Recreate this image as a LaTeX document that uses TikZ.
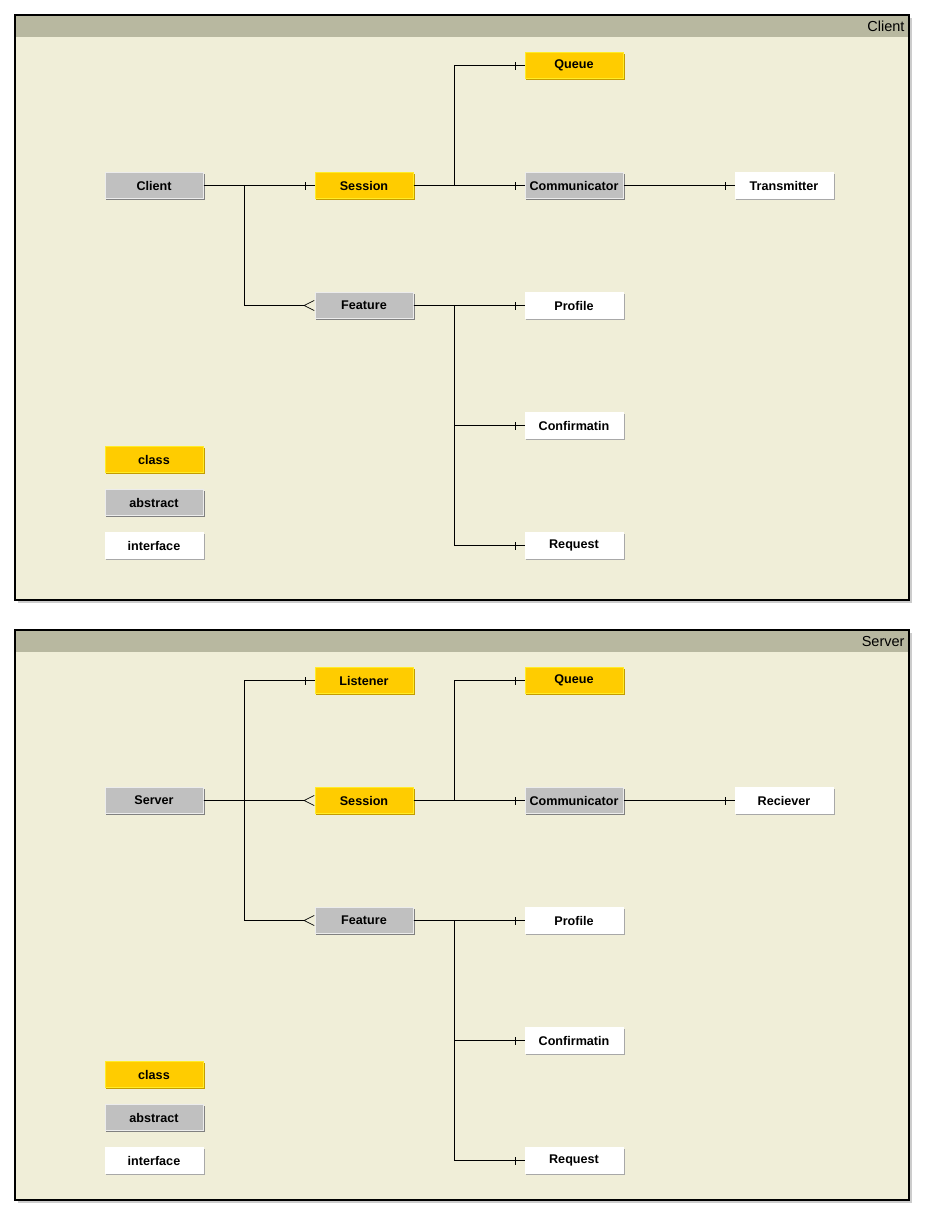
\documentclass[tikz,border=0pt]{standalone}
\usepackage{fontspec}
\setmainfont{Liberation Sans}
\usetikzlibrary{arrows.meta,decorations.markings}

\definecolor{panelbg}{RGB}{240,238,216}
\definecolor{panelhead}{RGB}{184,184,160}
\definecolor{panelshade}{RGB}{204,204,204}
\definecolor{clsfill}{RGB}{255,204,0}
\definecolor{clslight}{RGB}{255,236,40}
\definecolor{clsdark}{RGB}{196,156,0}
\definecolor{absfill}{RGB}{192,192,192}
\definecolor{abslight}{RGB}{236,236,236}
\definecolor{absdark}{RGB}{128,128,128}
\definecolor{ifcdark}{RGB}{168,168,168}

\begin{document}
\begin{tikzpicture}[x=1pt,y=-1pt,
    box/.style={minimum width=98.6pt,minimum height=25.8pt,inner sep=0pt,
      font=\fontsize{12.6}{14}\selectfont\bfseries,
      preaction={fill=#1,transform canvas={shift={(1.2,1.2)}}}},
    cls/.style={box=clsdark,fill=clsfill,draw=clslight},
    abs/.style={box=absdark,fill=absfill,draw=abslight},
    ifc/.style={box=ifcdark,fill=white,draw=white},
    link/.style={line width=0.8pt},
    onebar/.style={link,postaction={decorate,decoration={markings,
      mark=at position -9pt with {\draw[line width=0.8pt] (0,-4pt) -- (0,4pt);}}}},
    many/.style={link,-{Straight Barb[reversed,length=10pt,width=10pt,line width=0.7pt]}},
    head/.style={anchor=east,font=\fontsize{14.5}{16}\selectfont}]
  \useasboundingbox (0,0) rectangle (928,1219);

  % client panel
  \fill[panelshade] (18,18) rectangle (912,603);
  \fill[panelbg] (15,15) rectangle (909,600);
  \fill[panelhead] (15,15) rectangle (909,37);
  \draw[line width=1.2pt] (15,15) rectangle (909,600);
  \node[head] (clienthead) at (908,26) {Client};

  \node[abs] (client) at (154,185.5) {Client};
  \node[cls] (csess) at (364,185.5) {Session};
  \node[abs] (cfeat) at (364,305.5) {Feature};
  \node[cls] (cqueue) at (574,65.5) {Queue};
  \node[abs] (ccomm) at (574,185.5) {Communicator};
  \node[ifc] (ctrans) at (784,185.5) {Transmitter};
  \node[ifc] (cprof) at (574,305.5) {Profile};
  \node[ifc] (cconf) at (574,425.5) {Confirmatin};
  \node[ifc] (creq) at (574,545.5) {Request};

  \node[cls] (clegcls) at (154,459.5) {class};
  \node[abs] (clegabs) at (154,502.5) {abstract};
  \node[ifc] (clegifc) at (154,545.5) {interface};

  \draw[onebar] (client.east) -- (csess.west);
  \draw[many] (client.east) -- ++(40.5,0) |- (cfeat.west);
  \draw[onebar] (csess.east) -- ++(40.5,0) |- (cqueue.west);
  \draw[onebar] (csess.east) -- (ccomm.west);
  \draw[onebar] (ccomm.east) -- (ctrans.west);
  \draw[onebar] (cfeat.east) -- (cprof.west);
  \draw[onebar] (cfeat.east) -- ++(40.5,0) |- (cconf.west);
  \draw[onebar] (cfeat.east) -- ++(40.5,0) |- (creq.west);

  % server panel
  \fill[panelshade] (18,633) rectangle (912,1203);
  \fill[panelbg] (15,630) rectangle (909,1200);
  \fill[panelhead] (15,630) rectangle (909,652);
  \draw[line width=1.2pt] (15,630) rectangle (909,1200);
  \node[head] (serverhead) at (908,641) {Server};

  \node[abs] (server) at (154,800.5) {Server};
  \node[cls] (slist) at (364,680.5) {Listener};
  \node[cls] (ssess) at (364,800.5) {Session};
  \node[abs] (sfeat) at (364,920.5) {Feature};
  \node[cls] (squeue) at (574,680.5) {Queue};
  \node[abs] (scomm) at (574,800.5) {Communicator};
  \node[ifc] (srecv) at (784,800.5) {Reciever};
  \node[ifc] (sprof) at (574,920.5) {Profile};
  \node[ifc] (sconf) at (574,1040.5) {Confirmatin};
  \node[ifc] (sreq) at (574,1160.5) {Request};

  \node[cls] (slegcls) at (154,1074.5) {class};
  \node[abs] (slegabs) at (154,1117.5) {abstract};
  \node[ifc] (slegifc) at (154,1160.5) {interface};

  \draw[onebar] (server.east) -- ++(40.5,0) |- (slist.west);
  \draw[many] (server.east) -- (ssess.west);
  \draw[many] (server.east) -- ++(40.5,0) |- (sfeat.west);
  \draw[onebar] (ssess.east) -- ++(40.5,0) |- (squeue.west);
  \draw[onebar] (ssess.east) -- (scomm.west);
  \draw[onebar] (scomm.east) -- (srecv.west);
  \draw[onebar] (sfeat.east) -- (sprof.west);
  \draw[onebar] (sfeat.east) -- ++(40.5,0) |- (sconf.west);
  \draw[onebar] (sfeat.east) -- ++(40.5,0) |- (sreq.west);
\end{tikzpicture}
\end{document}
